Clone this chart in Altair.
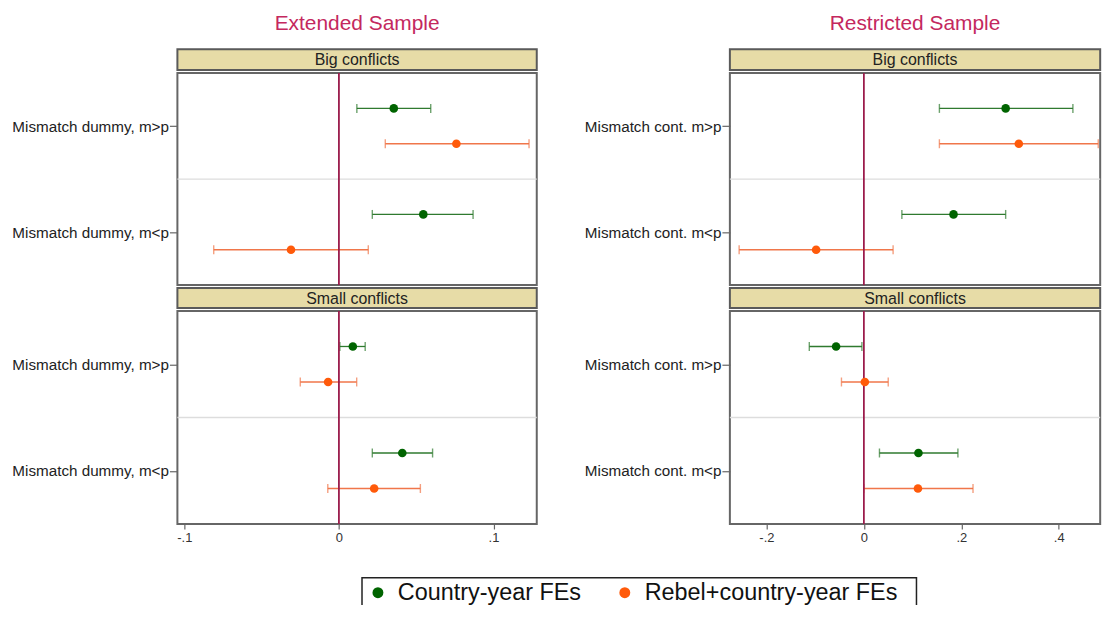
import altair as alt
import pandas as pd

FONT = "Liberation Sans, Arial, Helvetica, sans-serif"

samples = ["Extended Sample", "Restricted Sample"]
conflicts = ["Big conflicts", "Small conflicts"]
var_labels = [["Mismatch dummy, m>p", "Mismatch dummy, m<p"],
              ["Mismatch cont. m>p", "Mismatch cont. m<p"]]
series_names = ["Country-year FEs", "Rebel+country-year FEs"]

# order: sample -> conflict -> variable -> series
estimates = [0.0355, 0.076, 0.0546, -0.031,
             0.009, -0.007, 0.041, 0.0228,
             0.291, 0.318, 0.184, -0.098,
             -0.057, 0.002, 0.112, 0.111]
ci_low = [0.0116, 0.030, 0.0216, -0.081,
          0.0006, -0.025, 0.0216, -0.0072,
          0.155, 0.155, 0.078, -0.256,
          -0.112, -0.046, 0.032, 0.0]
ci_high = [0.0594, 0.123, 0.0868, 0.019,
           0.017, 0.0115, 0.0606, 0.0527,
           0.429, 0.481, 0.291, 0.060,
           -0.004, 0.050, 0.193, 0.224]

x_domains = [[-0.1045, 0.128], [-0.275, 0.485]]
x_ticks = [[-0.1, 0, 0.1], [-0.2, 0, 0.2, 0.4]]
panel_widths = [361, 372]

rows = []
k = 0
for si, s in enumerate(samples):
    for ci, c in enumerate(conflicts):
        for vi in range(2):
            for se in series_names:
                rows.append({"sample": s, "conflict": c, "var_idx": vi + 1,
                             "series": se, "est": estimates[k],
                             "lo": ci_low[k], "hi": ci_high[k]})
                k += 1
df = pd.DataFrame(rows)

GREEN, ORANGE = "#006400", "#FF5A0A"
GREEN_L, ORANGE_L = "#2f7a2f", "#F0764A"
ZERO = "#9B1B4B"
TITLE = "#C4285E"
HDR = "#E7DCA7"

color_scale = alt.Scale(domain=series_names, range=[GREEN, ORANGE])
line_scale = alt.Scale(domain=series_names, range=[GREEN_L, ORANGE_L])


def plot_panel(si, ci, height, show_x):
    W = panel_widths[si]
    base = alt.Chart(df).transform_filter(
        (alt.datum.sample == samples[si]) & (alt.datum.conflict == conflicts[ci])
    ).transform_calculate(
        pos=f"datum.var_idx + (datum.series === '{series_names[0]}' ? -1/6 : 1/6)"
    )
    xsc = alt.Scale(domain=x_domains[si], nice=False, zero=False)
    ysc = alt.Scale(domain=[0.5, 2.5], reverse=True, nice=False, zero=False)
    labs = var_labels[si]
    yaxis = alt.Axis(values=[1, 2],
                     labelExpr=f"datum.value == 1 ? '{labs[0]}' : '{labs[1]}'",
                     title=None, grid=False, domain=False, ticks=True,
                     tickSize=8, tickColor="#666", tickWidth=1.2,
                     labelFontSize=15.3, labelPadding=1, labelColor="#222",
                     labelFont=FONT)
    if show_x:
        xaxis = alt.Axis(values=x_ticks[si],
                         labelExpr="replace(replace(format(datum.value, '.1~f'), '0.', '.'), '\u2212', '-')",
                         title=None, grid=False, domain=False, tickSize=5,
                         tickColor="#666", tickWidth=1.2, labelFontSize=13,
                         labelPadding=3, labelColor="#333", labelFont=FONT)
    else:
        xaxis = None

    one = "datum.var_idx == 1 && datum.series == '%s'" % series_names[0]
    sep = base.mark_rule(color="#dddddd", strokeWidth=1.3).encode(
        y=alt.YDatum(1.5, scale=ysc, axis=yaxis)
    ).transform_filter(one)
    rules = base.mark_rule(strokeWidth=1.3).encode(
        x=alt.X("lo:Q", scale=xsc, axis=xaxis),
        x2="hi:Q",
        y=alt.Y("pos:Q", scale=ysc, axis=yaxis),
        stroke=alt.Stroke("series:N", scale=line_scale, legend=None),
    )
    cap_lo = base.mark_tick(orient="vertical", size=9, thickness=1.4).encode(
        x=alt.X("lo:Q", scale=xsc, axis=xaxis),
        y=alt.Y("pos:Q", scale=ysc, axis=yaxis),
        fill=alt.Fill("series:N", scale=line_scale, legend=None),
    )
    cap_hi = base.mark_tick(orient="vertical", size=9, thickness=1.4).encode(
        x=alt.X("hi:Q", scale=xsc, axis=xaxis),
        y=alt.Y("pos:Q", scale=ysc, axis=yaxis),
        fill=alt.Fill("series:N", scale=line_scale, legend=None),
    )
    zero = base.mark_rule(color=ZERO, strokeWidth=1.8).encode(
        x=alt.XDatum(0, scale=xsc, axis=xaxis)
    ).transform_filter(one)
    pts = base.mark_circle(size=75, opacity=1).encode(
        x=alt.X("est:Q", scale=xsc, axis=xaxis),
        y=alt.Y("pos:Q", scale=ysc, axis=yaxis),
        color=alt.Color("series:N", scale=color_scale, legend=None),
    )
    return alt.layer(sep, rules, cap_lo, cap_hi, zero, pts).properties(
        width=W, height=height,
        view=alt.ViewBackground(fill="white", stroke="#666", strokeWidth=2),
    )


def header(si, ci, height, with_title):
    W = panel_widths[si]
    ch = alt.Chart(pd.DataFrame({"label": [conflicts[ci]]})).mark_text(
        fontSize=16, font=FONT, color="#222", align="center", baseline="middle"
    ).encode(text="label:N", x=alt.value(W / 2), y=alt.value(height / 2 + 0.5))
    props = dict(width=W, height=height,
                 view=alt.ViewBackground(fill=HDR, stroke="#5a5a5a", strokeWidth=2))
    if with_title:
        props["title"] = alt.TitleParams(samples[si], fontSize=21, font=FONT,
                                         color=TITLE, fontWeight="normal",
                                         anchor="middle", frame="group",
                                         offset=15)
    return ch.properties(**props)


cols = []
for si in range(2):
    cols.append(alt.vconcat(
        header(si, 0, 21, True),
        plot_panel(si, 0, 213, False),
        header(si, 1, 20, False),
        plot_panel(si, 1, 214, True),
        spacing=0,
    ))

# legend box built from the series list and the shared colour scale
leg_df = pd.DataFrame({"series": series_names})
leg_x = alt.X("series:N", axis=None,
              scale=alt.Scale(type="point", domain=series_names,
                              range=[16, 264], padding=0))
leg_pts = alt.Chart(leg_df).mark_circle(size=120, opacity=1).encode(
    x=leg_x, y=alt.value(15),
    color=alt.Color("series:N", scale=color_scale, legend=None),
)
leg_txt = alt.Chart(leg_df).mark_text(
    align="left", baseline="middle", dx=20, fontSize=23.5, font=FONT, color="#111"
).encode(x=leg_x, y=alt.value(15), text="series:N")
legend = alt.layer(leg_pts, leg_txt).properties(
    width=557, height=44,
    view=alt.ViewBackground(fill="white", stroke="#222", strokeWidth=1.5),
)

chart = alt.vconcat(
    alt.hconcat(*cols, spacing=44),
    legend,
    spacing=31, center=True,
).properties(
    padding={"left": 2, "right": 0, "top": 3, "bottom": -19}
).configure(font=FONT)

chart.save("out.html", embed_options={"renderer": "svg", "actions": False})
